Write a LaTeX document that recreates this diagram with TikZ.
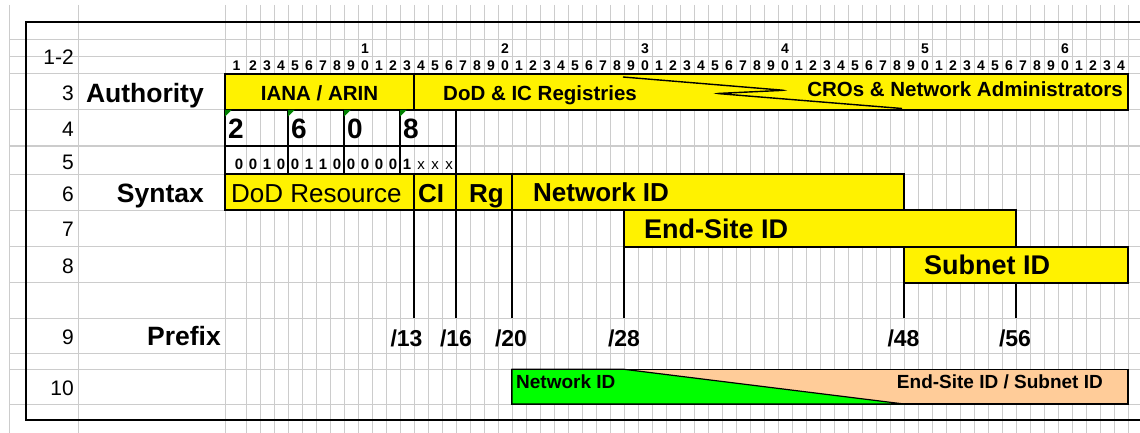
\documentclass[tikz,border=0pt]{standalone}
\usepackage{fontspec}
\setmainfont{Liberation Sans}
\usetikzlibrary{positioning}
\definecolor{peach}{HTML}{FFCC99}
\definecolor{gridgray}{HTML}{CCCCCC}
\definecolor{markgreen}{HTML}{008000}
\newcommand{\fs}[1]{\fontsize{#1}{#1}\selectfont}

\begin{document}
\begin{tikzpicture}[x=1pt, y=-1pt,
  gridline/.style={gridgray, line width=1pt},
  box/.style={draw, line width=1.6pt, inner sep=0pt, outer sep=0pt, anchor=north west},
  ybox/.style={box, fill=yellow},
  txt/.style={inner sep=0pt, text height={0.72*#1pt}, text depth=0pt, font=\bfseries\fs{#1}},
  plain/.style={inner sep=0pt, text height={0.72*#1pt}, text depth=0pt, font=\fs{#1}},
  rownum/.style={plain=21, anchor=east},
  link/.style={line width=1.6pt}]
   \useasboundingbox (0,0) rectangle (1140,433);
   \clip (0,0) rectangle (1140,433);

	%grade
   \foreach \x in {9.3,78.3,225} \draw[gridline] (\x,5) -- (\x,433);
   \foreach \k in {1,...,65} \draw[gridline] ({232+14*\k},5) -- ({232+14*\k},433);
   \foreach \y in {39.3,56.7,74,110,146,174,210,246.7,282.7,318.3,353.3,369.3,404}
      \draw[gridline] (9.3,\y) -- (1140,\y);
   \draw[line width=2pt] (1150,22) -| (26,419.5) -- (1150,419.5);

	%linhas
   \node[rownum] (r12) at (74,56.5) {1-2};
   \node[rownum] (r3) at (74,92.5) {3};
   \node[rownum] (r4) at (74,129) {4};
   \node[rownum] (r5) at (74,161.5) {5};
   \node[rownum] (r6) at (74,194) {6};
   \node[rownum] (r7) at (74,229) {7};
   \node[rownum] (r8) at (74,266) {8};
   \node[rownum] (r9) at (74,336.7) {9};
   \node[rownum] (r10) at (74,387.5) {10};

   \node[txt=26.5, anchor=east] (authority) at (204,93.3) {Authority};
   \node[txt=26.5, anchor=east] (syntax) at (204,193) {Syntax};
   \node[txt=26.5, anchor=east] (prefix) at (221,336) {Prefix};

	%bits
   \foreach \k in {1,...,64}{
      \pgfmathtruncatemacro{\unit}{mod(\k,10)}
      \pgfmathsetmacro{\cx}{\k==1 ? 236.5 : 225+14*\k}
      \node[txt=14] (c\k) at (\cx,65) {\unit};
   }
   \foreach \k in {10,20,...,60}{
      \pgfmathtruncatemacro{\tens}{\k/10}
      \node[txt=14] (d\k) at (225+14*\k,48) {\tens};
   }

	%autoridade
   \node[ybox, minimum width=189, minimum height=36] (iana) at (225,74) {};
   \node[ybox, minimum width=714, minimum height=36] (dodic) at (414,74) {};
   \draw[line width=1.4pt, rounded corners=2pt] (623,77) -- (784,90.3) -- (717,93.5) -- (902,108.5);
   \node[txt=20.5] (ianat) at (319.5,93.5) {IANA / ARIN};
   \node[txt=20.5, anchor=west] (dodict) at (443,93) {DoD \& IC Registries};
   \node[txt=20.5, anchor=east] (crot) at (1123,89) {CROs \& Network Administrators};

	%prefixo 2608
   \foreach \x/\w/\d in {225/63/2, 288/56/6, 344/56/0, 400/56/8}{
      \node[box, minimum width=\w, minimum height=36] (h\d) at (\x,110) {};
      \node[box, minimum width=\w, minimum height=28] (g\d) at (\x,146) {};
      \fill[markgreen] (\x,110) -- ++(6.5,0) -- ++(-6.5,6.5) -- cycle;
      \node[txt=28, anchor=west] (n\d) at (\x+3,128) {\d};
   }
   \foreach \k/\b in {2/0,3/1,4/0,5/0,6/1,7/1,8/0,9/0,10/0,11/0,12/0,13/1}
      \node[txt=15] (b\k) at (225+14*\k,164) {\b};
   \node[txt=15] (b1) at (239,164) {0};
   \foreach \k in {14,15,16}
      \node[plain=15] (b\k) at (225+14*\k,164) {x};

	%sintaxe
   \node[ybox, minimum width=189, minimum height=36] (dodres) at (225,174) {};
   \node[ybox, minimum width=42, minimum height=36] (ci) at (414,174) {};
   \node[ybox, minimum width=56, minimum height=36] (rg) at (456,174) {};
   \node[ybox, minimum width=392, minimum height=36] (netid) at (512,174) {};
   \node[ybox, minimum width=392, minimum height=36.7] (endsite) at (624,210) {};
   \node[ybox, minimum width=224, minimum height=36] (subnet) at (904,246.7) {};
   \node[plain=26, anchor=west] (dodrest) at (231,193) {DoD Resource};
   \node[txt=26, anchor=west] (cit) at (418,193) {CI};
   \node[txt=26] (rgt) at (486.5,193) {Rg};
   \node[txt=26, anchor=west] (netidt) at (533,192) {Network ID};
   \node[txt=27, anchor=west] (endsitet) at (644,228.3) {End-Site ID};
   \node[txt=27, anchor=west] (subnett) at (924,264.5) {Subnet ID};

	%prefixos
   \coordinate (e13) at (414,318.3);
   \coordinate (e16) at (456,318.3);
   \coordinate (e20) at (512,318.3);
   \coordinate (e28) at (624,318.3);
   \coordinate (e48) at (904,318.3);
   \coordinate (e56) at (1016,318.3);
   \draw[link] (ci.south west) -- (e13);
   \draw[link] (rg.south west) -- (e16);
   \draw[link] (netid.south west) -- (e20);
   \draw[link] (endsite.south west) -- (e28);
   \draw[link] (subnet.south west) -- (e48);
   \draw[link] (subnet.south -| endsite.east) -- (e56);
   \node[txt=23] (p13) at (406.5,338.3) {/13};
   \node[txt=23] (p16) at (456,338.3) {/16};
   \node[txt=23] (p20) at (511,338.3) {/20};
   \node[txt=23] (p28) at (624,338.3) {/28};
   \node[txt=23] (p48) at (903.5,338.3) {/48};
   \node[txt=23] (p56) at (1015,338.3) {/56};

	%linha 10
   \node[box, fill=peach, minimum width=616, minimum height=34.7] (tail) at (512,369.3) {};
   \filldraw[fill=green, line width=1.2pt] (tail.north west) -- (e28 |- tail.north)
      -- (e48 |- tail.south) -- (tail.south west) -- cycle;
   \node[txt=19, anchor=west] (netshort) at (516,381.7) {Network ID};
   \node[txt=19, anchor=east] (siteshort) at (1103,381.7) {End-Site ID / Subnet ID};
\end{tikzpicture}
\end{document}
